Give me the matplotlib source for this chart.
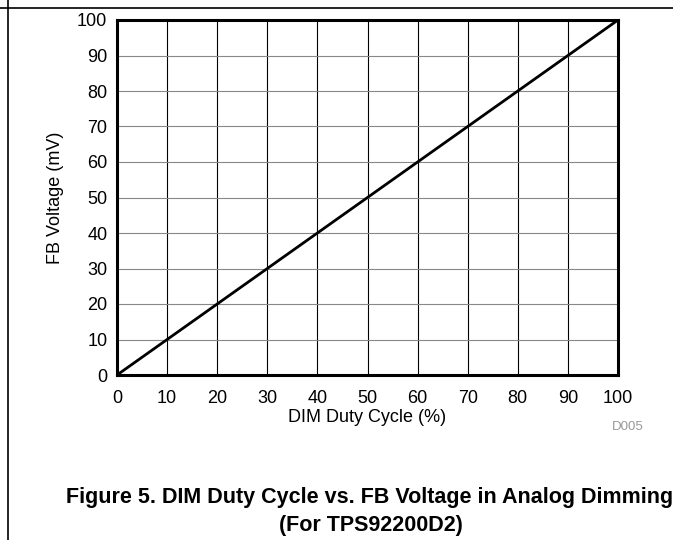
import matplotlib
matplotlib.use("Agg")
import matplotlib.pyplot as plt
from matplotlib.lines import Line2D

duty_cycle = [0, 100]
fb_voltage = [0, 100]
x_ticks = [0, 10, 20, 30, 40, 50, 60, 70, 80, 90, 100]
y_ticks = [0, 10, 20, 30, 40, 50, 60, 70, 80, 90, 100]

plt.rcParams['font.family'] = ['Liberation Sans', 'DejaVu Sans']

W, H = 673, 540
fig = plt.figure(figsize=(W/100, H/100), dpi=100)
ax = fig.add_axes([117/W, 1-375/H, (618-117)/W, (375-20)/H])

ax.plot(duty_cycle, fb_voltage, color='black', lw=2, zorder=3)
ax.set_xlim(0, 100)
ax.set_ylim(0, 100)
ax.set_xticks(x_ticks)
ax.set_yticks(y_ticks)
ax.tick_params(length=0, labelsize=13)
ax.tick_params(axis='x', pad=11)
ax.tick_params(axis='y', pad=7)
for xv in x_ticks[1:-1]:
    ax.axvline(xv, color='black', lw=0.8, zorder=1)
for yv in y_ticks[1:-1]:
    ax.axhline(yv, color='#888888', lw=0.8, zorder=1)
for s in ax.spines.values():
    s.set_linewidth(2.2)
ax.set_xlabel('DIM Duty Cycle (%)', fontsize=13)
ax.set_ylabel('FB Voltage (mV)', fontsize=13)
ax.xaxis.set_label_coords(0.5, (375-418)/(375-20), transform=ax.transAxes)
ax.xaxis.label.set_va('center')
ax.yaxis.set_label_coords((55-117)/(618-117), 0.5, transform=ax.transAxes)
ax.yaxis.label.set_va('center')

fig.text(628/W, 1-427.5/H, 'D005', color='#999999', fontsize=9.5, ha='center', va='center')
fig.text(370/W, 1-497/H, 'Figure 5. DIM Duty Cycle vs. FB Voltage in Analog Dimming',
         fontsize=15.5, fontweight='bold', ha='center', va='center')
fig.text(371/W, 1-526/H, '(For TPS92200D2)', fontsize=15.5, fontweight='bold', ha='center', va='center')

fig.add_artist(Line2D([0, 1], [1-7.5/H, 1-7.5/H], color='black', lw=1.2, transform=fig.transFigure))
fig.add_artist(Line2D([8/W, 8/W], [0, 1], color='black', lw=1.2, transform=fig.transFigure))

fig.savefig('out.png', dpi=100)
